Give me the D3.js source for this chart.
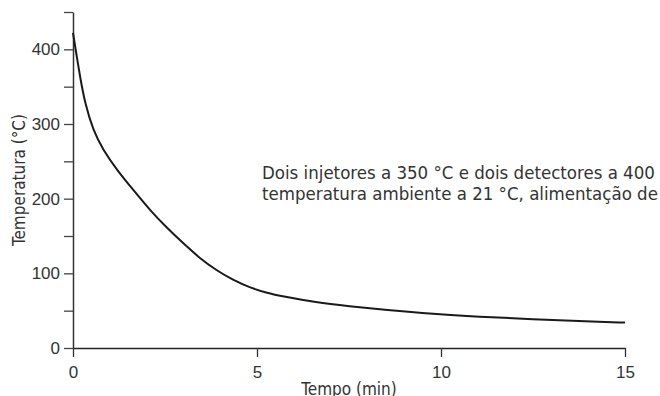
<!DOCTYPE html>
<html>
<head>
	<meta charset="utf-8">
	<title>Temperatura x Tempo</title>
	<style>
		body { margin: 0; background: #fff; }
		svg { display: block; font-family: "Liberation Sans Narrow", "DejaVu Sans Condensed", "Roboto Condensed", sans-serif; }
	</style>
</head>
<body onload="init()">
	<svg width="660" height="396"></svg>
</body>
<script src="https://cdn.jsdelivr.net/npm/d3@7"></script>
<script>
	//dados
	const tempo = [0, 0.1, 0.2, 0.33, 0.55, 0.82, 1.2, 1.65, 2.1, 2.55, 3, 3.45, 3.9, 4.35, 4.8, 5.25, 5.7, 6.6, 7.5, 8.5, 9.8, 11, 12.5, 14, 15]
	const temperatura = [422, 391, 361, 327, 291, 265, 238, 211, 184, 161, 140, 120, 104, 91, 81, 74, 69, 61, 56, 51, 45.5, 42, 38.5, 35.5, 34]

	const xTicks = [0, 5, 10, 15]
	const yTicks = [0, 50, 100, 150, 200, 250, 300, 350, 400, 450]
	const yLabels = [0, 100, 200, 300, 400]

	const nota = [
		"Dois injetores a 350 °C e dois detectores a 400 °C,",
		"temperatura ambiente a 21 °C, alimentação de 220 V"
	]

	function init() {
		let svg = d3.select("svg")
		let m = {top: 12, right: 35, bottom: 48, left: 73}
		let w = 660 - m.left - m.right
		let h = 396 - m.top - m.bottom
		let g = svg.append("g").attr("transform", `translate(${m.left}, ${m.top})`)

		//escalas
		let x = d3.scaleLinear().domain([0, 15]).range([0, w])
		let y = d3.scaleLinear().domain([0, 450]).range([h, 0])

		//eixo y
		let gy = g.append("g")
			.call(d3.axisLeft(y).tickValues(yTicks).tickSize(9).tickPadding(4).tickSizeOuter(0)
				.tickFormat(d => yLabels.includes(d) ? d : ""))
		gy.selectAll("text").attr("font-size", 17).attr("fill", "#333").attr("font-family", null)
		gy.selectAll("line").attr("stroke", "#444").attr("stroke-width", 1.3)
		gy.select(".domain").attr("stroke", "#333").attr("stroke-width", 1.5)

		//eixo x
		let gx = g.append("g")
			.attr("transform", `translate(0, ${h})`)
			.call(d3.axisBottom(x).tickValues(xTicks).tickSize(9).tickSizeOuter(0))
		gx.selectAll("text").attr("font-size", 17).attr("fill", "#333").attr("font-family", null)
			.attr("y", 30).attr("dy", null)
		gx.selectAll("line").attr("stroke", "#333").attr("stroke-width", 1.3)
		gx.select(".domain").attr("stroke", "#222").attr("stroke-width", 1.5)

		//curva
		let line = d3.line()
			.x((d, i) => x(tempo[i]))
			.y(d => y(d))
			.curve(d3.curveBasis)
		g.append("path")
			.datum(temperatura)
			.attr("d", line)
			.attr("fill", "none")
			.attr("stroke", "#1a1a1a")
			.attr("stroke-width", 2)

		//titulos dos eixos
		svg.append("text")
			.attr("x", m.left + w / 2).attr("y", 395)
			.attr("text-anchor", "middle")
			.attr("font-size", 17).attr("fill", "#333")
			.text("Tempo (min)")
		svg.append("text")
			.attr("transform", `translate(25, ${m.top + h / 2}) rotate(-90)`)
			.attr("text-anchor", "middle")
			.attr("font-size", 17).attr("fill", "#333")
			.text("Temperatura (°C)")

		//nota
		svg.append("text")
			.attr("font-size", 18.5).attr("fill", "#333")
			.selectAll("tspan")
			.data(nota)
			.join("tspan")
				.attr("x", 262)
				.attr("y", (d, i) => 179 + i * 21)
				.text(d => d)
	}
</script>
</html>
